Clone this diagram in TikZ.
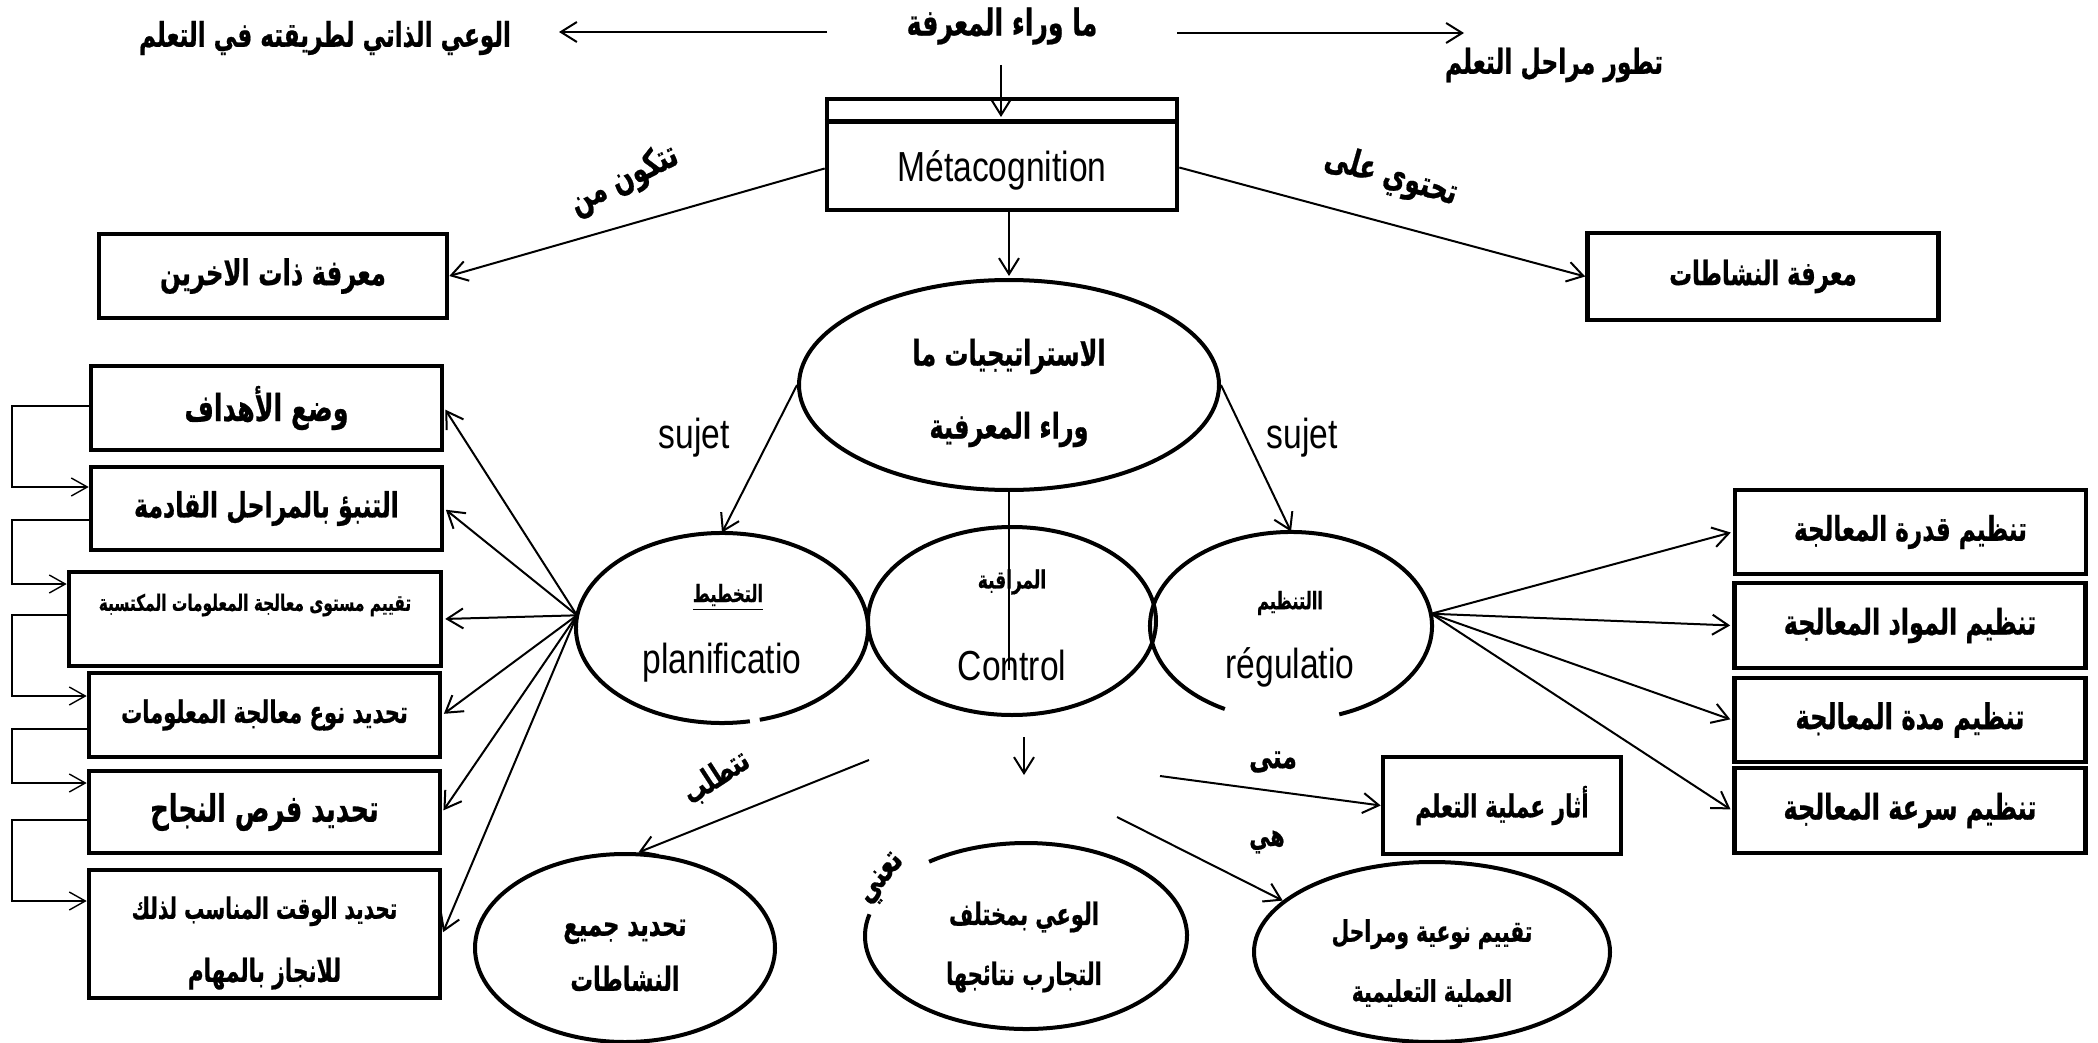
\documentclass[tikz,border=0pt]{standalone}
\usepackage{fontspec}
\usetikzlibrary{arrows.meta,shapes.geometric,calc}
\TeXXeTstate=1
\newfontfamily\arfont[Script=Arabic, FakeStretch=0.68, BoldFeatures={FakeBold=0.6}]{DejaVu Sans}
\newfontfamily\latfont[FakeStretch=0.8]{Liberation Sans}
\newcommand\AR[1]{\beginR #1\endR}
\newcommand\arsize[2]{\arfont\bfseries\fontsize{#1}{#2}\selectfont}

\tikzset{
  box/.style={draw, line width=2.3pt, rectangle, inner sep=0pt},
  oval/.style={draw, line width=2pt, ellipse, inner sep=0pt},
  ghost/.style={ellipse, inner sep=0pt},
  ovl/.style={line width=2pt},
  conn/.style={line width=1pt},
  arr/.style={conn, -{Straight Barb[length=8pt,width=10pt]}},
  elb/.style={line width=0.7pt, -{Straight Barb[length=8pt,width=9pt]}},
  ar/.style={inner sep=0pt},
  lat/.style={font=\latfont\fontsize{21pt}{24pt}\selectfont, inner sep=0pt},
}

\begin{document}
\begin{tikzpicture}[x=0.5pt,y=-0.5pt]
\fill[white] (0,0) rectangle (2098,1043);
\useasboundingbox (0,0) rectangle (2098,1043);

% ---- top line of headings
\node[ar, font=\arsize{18.5pt}{20pt}] (title) at (1002,26) {\AR{ما وراء المعرفة}};
\node[ar, font=\arsize{17pt}{20pt}] (self) at (325,38) {\AR{الوعي الذاتي لطريقته في التعلم}};
\node[ar, font=\arsize{17.2pt}{20pt}] (stages) at (1554,65) {\AR{تطور مراحل التعلم}};
\coordinate (tl0) at (827,32);  \coordinate (tl1) at (559,32);
\coordinate (tr0) at (1177,33); \coordinate (tr1) at (1464,33);
\draw[arr] (tl0) -- (tl1);
\draw[arr] (tr0) -- (tr1);

% ---- Métacognition box
\node[box, minimum width=175pt, minimum height=55.5pt] (meta) at (1002,154.5) {};
\draw[line width=2.3pt] ($(meta.north west)+(0,25)$) -- ($(meta.north east)+(0,25)$);
\node[lat] (metatxt) at (1002,170) {Métacognition};
\coordinate (md0) at (1001,65); \coordinate (md1) at (1001,117);
\draw[arr] (md0) -- (md1);

% ---- second row
\node[box, minimum width=174pt, minimum height=42pt, font=\arsize{17.8pt}{20pt}] (others) at (273,276) {\AR{معرفة ذات الاخرين}};
\node[box, minimum width=175.5pt, minimum height=43.5pt, font=\arsize{16.7pt}{20pt}] (acts) at (1763,276.5) {\AR{معرفة النشاطات}};
\draw[arr] ($(meta.west)+(0,14)$) -- (others.east);
\draw[arr] ($(meta.east)+(0,13)$) -- (acts.west);
\node[ar, rotate=26, font=\arsize{18.2pt}{20pt}] (lblA) at (624,180) {\AR{تتكون من}};
\node[ar, rotate=-16, font=\arsize{18.2pt}{20pt}] (lblB) at (1391,177) {\AR{تحتوي على}};

% ---- strategies ellipse
\node[oval, minimum width=210pt, minimum height=105pt] (strat) at (1009,385) {};
\node[align=center, font=\arsize{17.6pt}{36.5pt}] (strattxt) at (1009,393) {\AR{الاستراتيجيات ما}\\\AR{وراء المعرفية}};
\draw[arr, shorten >=1pt] (strat.north |- meta.south) -- (strat.north);

% ---- planning / monitoring / regulation
\node[ghost, minimum width=146pt, minimum height=95pt] (pl) at (722,628) {};
\draw[ovl] ($(pl.center)+(285:73pt and 47.5pt)$) arc[start angle=285, end angle=641, x radius=73pt, y radius=47.5pt];
\node[oval, minimum width=144pt, minimum height=94pt] (co) at (1012,621) {};
\node[ghost, minimum width=141pt, minimum height=94pt] (re) at (1291,626) {};
\draw[ovl] ($(re.center)+(290:70.5pt and 47pt)$) arc[start angle=290, end angle=602, x radius=70.5pt, y radius=47pt];

\node[ar, font=\arsize{12pt}{14pt}] (pltxt) at (728,597) {\underline{\AR{التخطيط}}};
\node[lat] (pllat) at (722,663) {planificatio};
\node[ar, font=\arsize{12.5pt}{14pt}] (cotxt) at (1012,582) {\AR{المراقبة}};
\node[ar, font=\arsize{12pt}{14pt}] (retxt) at (1290,603) {\AR{االتنظيم}};
\node[lat] (relat) at (1290,667) {régulatio};
\node[lat] (colat) at (1012,665) {Control};
\coordinate (cEnd) at (1009,670);
\draw[conn] (strat.south) -- (cEnd);

\draw[arr] (strat.west) -- (pl.north);
\draw[arr] (strat.east) -- (re.north);
\node[lat] (sujA) at (694,438) {sujet};
\node[lat] (sujB) at (1302,438) {sujet};

% ---- planning steps (left column)
\node[box, minimum width=175.5pt, minimum height=42pt, font=\arsize{18.6pt}{20pt}] (L1) at (266.5,408) {\AR{وضع الأهداف}};
\node[box, minimum width=175.5pt, minimum height=41.5pt, font=\arsize{17.4pt}{20pt}] (L2) at (266.5,508.5) {\AR{التنبؤ بالمراحل القادمة}};
\node[box, minimum width=186pt, minimum height=47pt] (L3) at (255,619) {};
\node[ar, font=\arsize{11.3pt}{13pt}] (L3txt) at (255,605) {\AR{تقييم مستوى معالجة المعلومات المكتسبة}};
\node[box, minimum width=175.5pt, minimum height=42pt, font=\arsize{15.5pt}{20pt}] (L4) at (264.5,715) {\AR{تحديد نوع معالجة المعلومات}};
\node[box, minimum width=175.5pt, minimum height=41pt, font=\arsize{18.9pt}{20pt}] (L5) at (264.5,812) {\AR{تحديد فرص النجاح}};
\node[box, minimum width=175.5pt, minimum height=64pt] (L6) at (264.5,934) {};
\node[align=center, font=\arsize{14.8pt}{31.5pt}] (L6txt) at (264.5,943) {\AR{تحديد الوقت المناسب لذلك}\\{\fontsize{15.9pt}{31.5pt}\selectfont\AR{للانجاز بالمهام}}};

\foreach \b in {L1,L2,L3,L4,L5,L6}
  \draw[arr, shorten >=1pt] (pl.175) -- (\b.east);

\coordinate (rail) at (12,0);
\coordinate (e1) at ($(L1.west)+(0,-2)$);   \coordinate (n2) at ($(L2.west)+(0,-21.5)$);
\coordinate (e2) at ($(L2.west)+(0,11.5)$); \coordinate (n3) at ($(L3.west)+(0,-35)$);
\coordinate (e3) at ($(L3.west)+(0,-4)$);   \coordinate (n4) at ($(L4.west)+(0,-19)$);
\coordinate (e4) at ($(L4.west)+(0,14)$);   \coordinate (n5) at ($(L5.west)+(0,-29)$);
\coordinate (e5) at ($(L5.west)+(0,8)$);    \coordinate (n6) at ($(L6.west)+(0,-33)$);
\draw[elb] (e1) -- (e1 -| rail) |- (n2);
\draw[elb] (e2) -- (e2 -| rail) |- (n3);
\draw[elb] (e3) -- (e3 -| rail) |- (n4);
\draw[elb] (e4) -- (e4 -| rail) |- (n5);
\draw[elb] (e5) -- (e5 -| rail) |- (n6);

% ---- regulation steps (right column)
\node[box, minimum width=175.5pt, minimum height=42pt, font=\arsize{17pt}{20pt}] (R1) at (1910.5,532) {\AR{تنظيم قدرة المعالجة}};
\node[box, minimum width=175.5pt, minimum height=42.5pt, font=\arsize{17.6pt}{20pt}] (R2) at (1910,625.5) {\AR{تنظيم المواد المعالجة}};
\node[box, minimum width=175.5pt, minimum height=42pt, font=\arsize{17.8pt}{20pt}] (R3) at (1910,720) {\AR{تنظيم مدة المعالجة}};
\node[box, minimum width=175.5pt, minimum height=42.5pt, font=\arsize{17.6pt}{20pt}] (R4) at (1910,810.5) {\AR{تنظيم سرعة المعالجة}};
\foreach \b in {R1,R2,R3,R4}
  \draw[arr, shorten >=1pt] (re.5) -- (\b.west);

% ---- bottom part
\node[box, minimum width=119pt, minimum height=48.5pt, font=\arsize{15.9pt}{18pt}] (eff) at (1502,805.5) {\AR{أثار عملية التعلم}};
\node[oval, minimum width=150pt, minimum height=94pt] (b1) at (625,948) {};
\node[align=center, font=\arsize{16.6pt}{27.5pt}] (b1txt) at (625,955.5) {\AR{تحديد جميع}\\\AR{النشاطات}};
\node[ghost, minimum width=161pt, minimum height=93pt] (b2) at (1026,936) {};
\draw[ovl] ($(b2.center)+(166.5:80.5pt and 46.5pt)$) arc[start angle=166.5, end angle=487, x radius=80.5pt, y radius=46.5pt];
\node[align=center, font=\arsize{15.4pt}{30pt}] (b2txt) at (1024,947) {\AR{الوعي بمختلف}\\\AR{التجارب نتائجها}};
\node[oval, minimum width=178pt, minimum height=90pt] (b3) at (1432,952) {};
\node[align=center, font=\arsize{14.9pt}{30pt}] (b3txt) at (1432,963) {\AR{تقييم نوعية ومراحل}\\\AR{العملية التعليمية}};

\coordinate (dn0) at (1024,737); \coordinate (dn1) at (1024,775);
\draw[arr] (dn0) -- (dn1);
\coordinate (s1) at (869,760);
\draw[arr] (s1) -- (b1.82);
\coordinate (s2) at (1160,776);
\draw[arr] (s2) -- (eff.west);
\coordinate (s3) at (1117,817);
\draw[arr] (s3) -- (b3.161);

\node[ar, rotate=33, font=\arsize{16.5pt}{18pt}] (lblC) at (716,777) {\AR{تتطلب}};
\node[ar, font=\arsize{17.2pt}{18pt}] (lblD) at (1273,762) {\AR{متى}};
\node[ar, font=\arsize{15.3pt}{18pt}] (lblE) at (1267,842) {\AR{هي}};
\node[ar, rotate=50, font=\arsize{17.6pt}{18pt}] (lblF) at (883,880) {\AR{تعني}};
\end{tikzpicture}
\end{document}
